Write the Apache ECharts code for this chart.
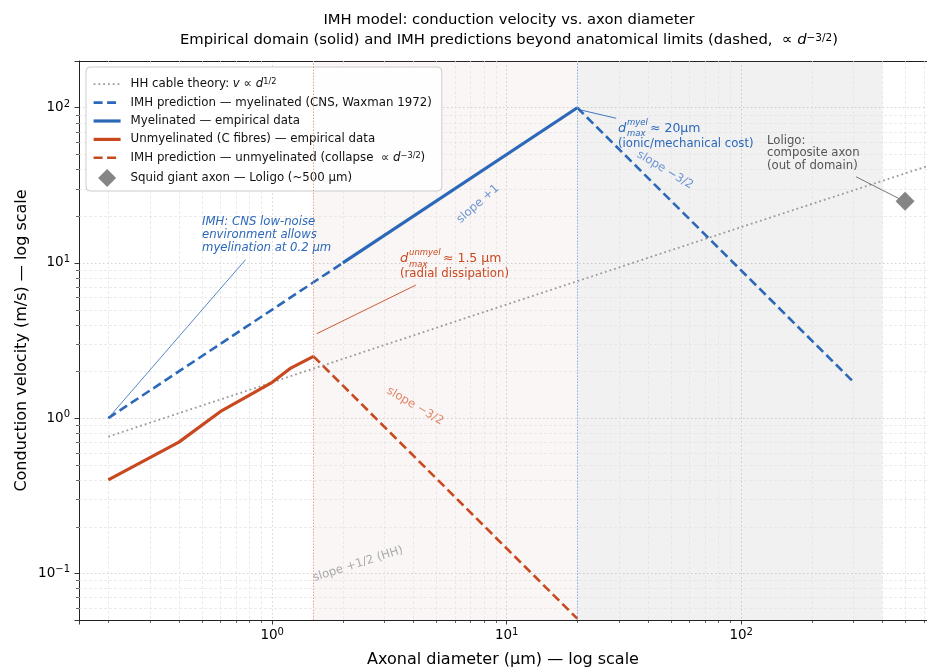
<!DOCTYPE html>
<html><head><meta charset="utf-8">
<script src="https://cdn.jsdelivr.net/npm/echarts@6/dist/echarts.min.js"></script>
<style>html,body{margin:0;padding:0;background:#fff}#c{width:927px;height:668px}</style>
</head><body><div id="c"></div>
<script>
const FONT = 'DejaVu Sans';
// axis ranges
const xRange = [0.15, 620];
const yRange = [0.05, 200];
// minor tick positions (log axes)
const minorX = [0.2,0.3,0.4,0.5,0.6,0.7,0.8,0.9, 2,3,4,5,6,7,8,9, 20,30,40,50,60,70,80,90, 200,300,400,500,600];
const minorY = [0.06,0.07,0.08,0.09, 0.2,0.3,0.4,0.5,0.6,0.7,0.8,0.9, 2,3,4,5,6,7,8,9, 20,30,40,50,60,70,80,90];
// HH cable theory
const hhD = [0.2, 1, 10, 100, 620];
const hhV = [0.76, 1.7, 5.4, 17, 42];
// IMH myelinated prediction (dashed)
const myelPredLowD = [0.2, 2];
const myelPredLowV = [1.0, 10];
const myelPredHighD = [20, 300];
const myelPredHighV = [100, 1.72];
// myelinated empirical
const myelEmpD = [2, 20];
const myelEmpV = [10, 100];
// unmyelinated empirical
const unmyelEmpD = [0.2, 0.4, 0.6, 1.0, 1.2, 1.5];
const unmyelEmpV = [0.4, 0.7, 1.1, 1.7, 2.1, 2.5];
// unmyelinated prediction
const unmyelPredD = [1.5, 20];
const unmyelPredV = [2.5, 0.051];
// squid
const squidD = [500];
const squidV = [25];
// domains
const dMaxUnmyel = 1.5, dMaxMyel = 20, domainEnd = 400;

const BLUE = '#2c68b8', RED = '#c8491f', GREY = '#999999';
const NOFILL = {color: 'rgba(0,0,0,0)', borderWidth: 0};
const zip = (a, b) => a.map((v, i) => [v, b[i]]);

const names = {
  hh: 'HH cable theory',
  mp: 'IMH prediction — myelinated (CNS, Waxman 1972)',
  me: 'Myelinated — empirical data',
  ue: 'Unmyelinated (C fibres) — empirical data',
  up: 'IMH prediction — unmyelinated',
  sq: 'Squid giant axon — Loligo (~500 µm)'
};
const legendFmt = function (n) {
  if (n === names.hh) return 'HH cable theory: {i|v} ∝ {i|d}{s|1/2}';
  if (n === names.up) return 'IMH prediction — unmyelinated (collapse  ∝ {i|d}{s|−3/2})';
  return n;
};

function tickFmt(v) {
  const l = Math.log10(v), e = Math.round(l);
  if (Math.abs(l - e) > 1e-6) return '';
  return '{b|10}{s|' + (e < 0 ? '−' + (-e) : e) + '}';
}
const tickRich = {
  b: {fontSize: 13.5, fontFamily: FONT, color: '#000', lineHeight: 17},
  s: {fontSize: 10, fontFamily: FONT, color: '#000', verticalAlign: 'top', lineHeight: 10}
};

function minorRender(isX) {
  return function (params, api) {
    const cs = params.coordSys;
    const p = api.coord([api.value(0), api.value(1)]);
    if (isX) {
      const x = Math.round(p[0]) + 0.5;
      return {type: 'group', children: [
        {type: 'line', shape: {x1: x, y1: cs.y, x2: x, y2: cs.y + cs.height}, style: {stroke: '#e2e2e2', lineWidth: 0.7, lineDash: [3, 2]}},
        {type: 'line', shape: {x1: x, y1: cs.y + cs.height, x2: x, y2: cs.y + cs.height + 3}, style: {stroke: '#222', lineWidth: 0.7}}
      ]};
    } else {
      const y = Math.round(p[1]) + 0.5;
      return {type: 'group', children: [
        {type: 'line', shape: {x1: cs.x, y1: y, x2: cs.x + cs.width, y2: y}, style: {stroke: '#e2e2e2', lineWidth: 0.7, lineDash: [3, 2]}},
        {type: 'line', shape: {x1: cs.x - 3, y1: y, x2: cs.x, y2: y}, style: {stroke: '#222', lineWidth: 0.7}}
      ]};
    }
  };
}

const annFont = 11.7;
function txt(x, y, text, color, opts) {
  return Object.assign({
    type: 'text', x: x, y: y, z: 50,
    style: Object.assign({text: text, fill: color, fontFamily: FONT, fontSize: annFont, align: 'left', verticalAlign: 'middle'}, (opts && opts.style) || {})
  }, (opts && opts.el) || {});
}

const chart = echarts.init(document.getElementById('c'), null, {renderer: 'canvas'});
const option = {
  animation: false,
  backgroundColor: '#fff',
  grid: {left: 79, top: 61, right: 0, bottom: 48, containLabel: false, outerBoundsMode: 'none'},
  xAxis: [{
    type: 'log', logBase: 10, min: xRange[0], max: xRange[1],
    name: 'Axonal diameter (µm) — log scale', nameLocation: 'middle', nameGap: 32, nameMoveOverlap: false,
    nameTextStyle: {fontFamily: FONT, fontSize: 16, color: '#000'},
    axisLine: {show: true, lineStyle: {color: '#222', width: 1}},
    axisTick: {show: true, length: 4.5, lineStyle: {color: '#222', width: 0.9}},
    axisLabel: {formatter: tickFmt, rich: tickRich, margin: 7},
    splitLine: {show: true, lineStyle: {color: '#cfcfcf', type: [1.5, 2.5], width: 0.9}},
    minorTick: {show: false}, minorSplitLine: {show: false}
  }, {
    type: 'log', logBase: 10, min: xRange[0], max: xRange[1], position: 'top',
    axisLine: {show: true, lineStyle: {color: '#222', width: 1}},
    axisTick: {show: false}, axisLabel: {show: false}, splitLine: {show: false}
  }],
  yAxis: {
    type: 'log', logBase: 10, min: yRange[0], max: yRange[1],
    name: 'Conduction velocity (m/s) — log scale', nameLocation: 'middle', nameGap: 49, nameMoveOverlap: false,
    nameTextStyle: {fontFamily: FONT, fontSize: 16, color: '#000'},
    axisLine: {show: true, lineStyle: {color: '#222', width: 1}},
    axisTick: {show: true, length: 4.5, lineStyle: {color: '#222', width: 0.9}},
    axisLabel: {formatter: tickFmt, rich: tickRich, margin: 9},
    splitLine: {show: true, lineStyle: {color: '#cfcfcf', type: [1.5, 2.5], width: 0.9}}
  },
  legend: {
    orient: 'vertical', left: 86, top: 67,
    padding: [10, 10, 4, 6], itemGap: 4, itemWidth: 27, itemHeight: 18,
    backgroundColor: 'rgba(255,255,255,0.88)', borderColor: '#cccccc', borderWidth: 1, borderRadius: 4,
    data: [
      {name: names.hh, lineStyle: {width: 1.8}},
      {name: names.mp, lineStyle: {width: 2.6}},
      {name: names.me, lineStyle: {width: 3.2}},
      {name: names.ue, lineStyle: {width: 3.2}},
      {name: names.up, lineStyle: {width: 2.6}},
      {name: names.sq, icon: 'path://M50,0 L100,50 L50,100 L0,50 Z'}
    ],
    symbolKeepAspect: true,
    formatter: legendFmt,
    textStyle: {fontFamily: FONT, fontSize: 11.8, color: '#111', padding: [0, 0, 0, 5],
      rich: {
        i: {fontStyle: 'italic', fontFamily: FONT, fontSize: 11.8, color: '#111'},
        s: {fontSize: 8.2, fontFamily: FONT, color: '#111', verticalAlign: 'top', lineHeight: 9}
      }
    },
    selectedMode: false
  },
  series: [
    {type: 'custom', name: 'minorX', renderItem: minorRender(true), data: minorX.map(v => [v, 1]), z: 1, silent: true, clip: false},
    {type: 'custom', name: 'minorY', renderItem: minorRender(false), data: minorY.map(v => [1, v]), z: 1, silent: true, clip: false},
    {
      type: 'line', name: names.hh, data: zip(hhD, hhV), symbol: 'none', z: 3,
      lineStyle: {color: GREY, width: 1.8, type: [1.8, 3]}, itemStyle: NOFILL,
      markArea: {
        silent: true,
        data: [
          [{xAxis: dMaxUnmyel, itemStyle: {color: 'rgba(200,120,120,0.065)'}}, {xAxis: dMaxMyel}],
          [{xAxis: dMaxMyel, itemStyle: {color: 'rgba(110,90,110,0.085)'}}, {xAxis: domainEnd}]
        ]
      },
      markLine: {
        silent: true, symbol: ['none', 'none'], label: {show: false},
        data: [
          {xAxis: dMaxUnmyel, lineStyle: {color: '#e8a28e', width: 1, type: [1.5, 1.5]}},
          {xAxis: dMaxMyel, lineStyle: {color: '#8fb0e0', width: 1, type: [1.5, 1.5]}}
        ]
      }
    },
    {type: 'line', name: names.mp, data: zip(myelPredLowD, myelPredLowV), symbol: 'none', z: 4,
      lineStyle: {color: BLUE, width: 2.6, type: [9, 4.5]}, itemStyle: NOFILL},
    {type: 'line', name: names.mp, data: zip(myelPredHighD, myelPredHighV), symbol: 'none', z: 4,
      lineStyle: {color: BLUE, width: 2.6, type: [9, 4.5]}, itemStyle: NOFILL},
    {type: 'line', name: names.me, data: zip(myelEmpD, myelEmpV), symbol: 'none', z: 5,
      lineStyle: {color: BLUE, width: 3.2}, itemStyle: NOFILL},
    {type: 'line', name: names.ue, data: zip(unmyelEmpD, unmyelEmpV), symbol: 'none', z: 5,
      lineStyle: {color: RED, width: 3.2, join: 'round'}, itemStyle: NOFILL},
    {type: 'line', name: names.up, data: zip(unmyelPredD, unmyelPredV), symbol: 'none', z: 4,
      lineStyle: {color: RED, width: 2.6, type: [9, 4.5]}, itemStyle: NOFILL},
    {type: 'scatter', name: names.sq, data: zip(squidD, squidV), symbol: 'diamond', symbolSize: 19, z: 6,
      itemStyle: {color: '#666666'}},
    {
      type: 'line', name: 'annotations', data: [[1, 1]], symbol: 'none', lineStyle: {opacity: 0}, z: 7,
      markLine: {
        silent: true, symbol: ['none', 'arrow'], symbolSize: [0, 7], label: {show: false},
        data: [
          [{coord: [0.77, 10.5], lineStyle: {color: BLUE, width: 0.8, type: 'solid'}}, {coord: [0.2, 1.0]}],
          [{coord: [4.1, 7.2], lineStyle: {color: RED, width: 0.9, type: 'solid'}}, {coord: [1.55, 3.5]}],
          [{coord: [29.3, 85.5], lineStyle: {color: BLUE, width: 0.9, type: 'solid'}}, {coord: [20.5, 97]}],
          [{coord: [309, 35.9], lineStyle: {color: '#666', width: 0.9, type: 'solid'}}, {coord: [470, 26]}]
        ]
      }
    }
  ],
  graphic: [
    {type: 'text', x: 509, y: 20, z: 50, style: {text: 'IMH model: conduction velocity vs. axon diameter', fill: '#000', fontFamily: FONT, fontSize: 14.8, align: 'center', verticalAlign: 'middle'}},
    {type: 'text', x: 509, y: 40, z: 50, style: {
      text: 'Empirical domain (solid) and IMH predictions beyond anatomical limits (dashed,  ∝ {i|d}{s|−3/2})',
      fill: '#000', fontFamily: FONT, fontSize: 14.8, align: 'center', verticalAlign: 'middle',
      rich: {i: {fontStyle: 'italic', fontFamily: FONT, fontSize: 14.8, fill: '#000'}, s: {fontFamily: FONT, fontSize: 10.5, verticalAlign: 'top', lineHeight: 11, fill: '#000'}}
    }},
    // CNS annotation
    txt(202, 216, 'IMH: CNS low-noise\nenvironment allows\nmyelination at 0.2 µm', BLUE, {style: {fontStyle: 'italic', verticalAlign: 'top', lineHeight: 12.7}}),
    // unmyelinated d_max
    txt(400, 259, 'd', RED, {style: {fontStyle: 'italic', fontSize: 13}}),
    txt(409, 253, 'unmyel', RED, {style: {fontStyle: 'italic', fontSize: 8.5}}),
    txt(409, 265, 'max', RED, {style: {fontStyle: 'italic', fontSize: 8.5}}),
    txt(443, 259, '≈ 1.5 µm', RED, {style: {fontSize: 12.5}}),
    txt(400, 274, '(radial dissipation)', RED),
    // myelinated d_max
    txt(618, 129, 'd', BLUE, {style: {fontStyle: 'italic', fontSize: 13}}),
    txt(627, 123, 'myel', BLUE, {style: {fontStyle: 'italic', fontSize: 8.5}}),
    txt(627, 134, 'max', BLUE, {style: {fontStyle: 'italic', fontSize: 8.5}}),
    txt(650, 129, '≈ 20µm', BLUE, {style: {fontSize: 12.5}}),
    txt(618, 144, '(ionic/mechanical cost)', BLUE),
    // Loligo
    txt(767, 141, 'Loligo:\ncomposite axon\n(out of domain)', '#555555', {style: {verticalAlign: 'top', lineHeight: 12.2}, el: {y: 135}}),
    // slope labels
    txt(478, 204, 'slope +1', '#6b93cf', {style: {align: 'center'}, el: {rotation: 0.72}}),
    txt(665, 170, 'slope −3/2', '#6b93cf', {style: {align: 'center'}, el: {rotation: -0.54}}),
    txt(415, 406, 'slope −3/2', '#df8465', {style: {align: 'center'}, el: {rotation: -0.53}}),
    txt(358, 564, 'slope +1/2 (HH)', '#ababab', {style: {align: 'center'}, el: {rotation: 0.31}})
  ]
};
chart.setOption(option);
</script>
</body></html>
